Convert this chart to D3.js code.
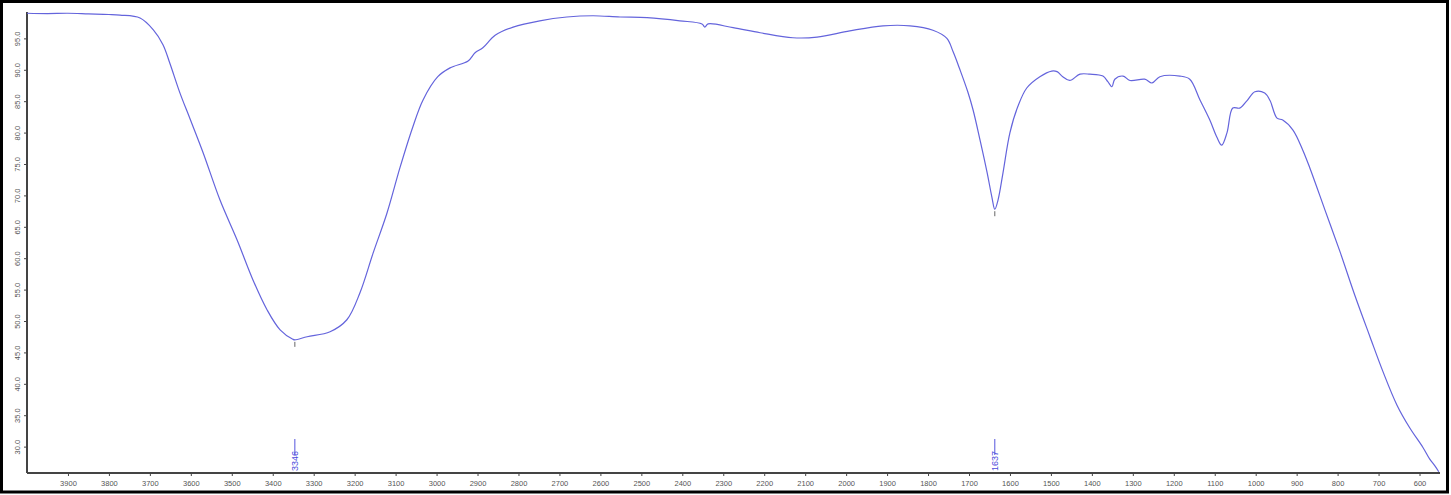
<!DOCTYPE html>
<html>
<head>
<meta charset="utf-8">
<script src="https://cdn.jsdelivr.net/npm/d3@7"></script>
<style>
  body { margin: 0; background: #fff; }
  .axis text { font-family: "Liberation Sans", Arial, sans-serif; font-size: 7.5px; fill: #555; }
  .axis path, .axis line { stroke: #444; }
</style>
</head>
<body>
<div id="chart"></div>
<script>
// wavenumber (cm-1) and % transmittance
const wavenumbers = [4000, 3950, 3900, 3850, 3800, 3773, 3724, 3692, 3668, 3651, 3626, 3602, 3570, 3529, 3487, 3448,
  3414, 3382, 3351, 3346, 3316, 3260, 3219, 3187, 3155, 3121, 3089, 3058, 3033, 2997, 2967, 2923, 2906, 2887,
  2857, 2813, 2748, 2682, 2618, 2552, 2486, 2406, 2352, 2345, 2337, 2276, 2210, 2130, 2071, 1991, 1910, 1844,
  1788, 1754, 1739, 1722, 1703, 1690, 1673, 1656, 1644, 1637, 1629, 1617, 1600, 1581, 1559, 1527, 1498, 1485,
  1471, 1454, 1429, 1405, 1373, 1361, 1351, 1344, 1324, 1307, 1271, 1253, 1234, 1185, 1161, 1136, 1112, 1095,
  1083, 1070, 1056, 1039, 1021, 1002, 978, 965, 948, 934, 909, 885, 868, 831, 794, 758, 721, 689, 655,
  624, 592, 575, 562, 553];
const transmittance = [99.0, 98.95, 99.0, 98.9, 98.8, 98.7, 98.25, 96.4, 94.0, 91.0, 86.2, 82.2, 76.8, 69.3, 62.9, 56.5,
  51.8, 48.6, 47.1, 47.0, 47.5, 48.3, 50.2, 54.5, 60.8, 67.2, 74.5, 80.9, 85.2, 88.9, 90.3, 91.4, 92.7, 93.5,
  95.5, 96.8, 97.8, 98.4, 98.6, 98.4, 98.3, 97.8, 97.3, 96.8, 97.3, 96.7, 95.9, 95.1, 95.2, 96.2, 97.0, 97.0,
  96.3, 95.0, 92.9, 90.0, 86.5, 83.6, 78.8, 73.7, 69.7, 67.8, 69.3, 73.6, 80.0, 84.1, 87.1, 88.9, 89.8, 89.7,
  88.9, 88.3, 89.3, 89.3, 89.0, 88.1, 87.3, 88.5, 89.0, 88.3, 88.5, 87.9, 88.9, 89.0, 88.5, 85.2, 82.0, 79.3,
  78.0, 80.0, 83.9, 83.9, 85.1, 86.5, 86.3, 85.1, 82.3, 82.0, 80.4, 77.2, 74.4, 67.7, 61.0, 54.1, 47.5, 41.9, 36.6,
  33.0, 29.9, 28.0, 26.9, 26.0];
const peakLabels = [3346, 1637];
const peakValues = [47.0, 67.8];
const xTicks = [3900, 3800, 3700, 3600, 3500, 3400, 3300, 3200, 3100, 3000, 2900, 2800, 2700, 2600, 2500, 2400,
  2300, 2200, 2100, 2000, 1900, 1800, 1700, 1600, 1500, 1400, 1300, 1200, 1100, 1000, 900, 800, 700, 600];
const yTicks = [30, 35, 40, 45, 50, 55, 60, 65, 70, 75, 80, 85, 90, 95];

const W = 1451, H = 495;
const svg = d3.select("#chart").append("svg").attr("width", W).attr("height", H);

const x = d3.scaleLinear().domain([4000, 550]).range([27, 1440]);
const y = d3.scaleLinear().domain([25.8, 99.2]).range([473, 12]);

svg.append("rect")
  .attr("x", 1.5).attr("y", 1.5).attr("width", W - 5).attr("height", H - 4.5)
  .attr("fill", "none").attr("stroke", "#000").attr("stroke-width", 3);

const xAxis = svg.append("g").attr("class", "axis")
  .attr("transform", "translate(0,473)")
  .call(d3.axisBottom(x).tickValues(xTicks).tickSize(3).tickPadding(5).tickFormat(d3.format("d")));
xAxis.select(".domain").attr("stroke-width", 2).attr("d", "M27,0H1440");

const yAxis = svg.append("g").attr("class", "axis")
  .attr("transform", "translate(27,0)")
  .call(d3.axisLeft(y).tickValues(yTicks).tickSize(3).tickFormat(d3.format(".1f")));
yAxis.select(".domain").attr("stroke-width", 2).attr("d", "M0,12V473");
yAxis.selectAll(".tick text")
  .attr("x", 0).attr("dy", 0)
  .attr("text-anchor", "middle")
  .attr("transform", "translate(-7,0) rotate(-90)");

const pts = wavenumbers.map((w, i) => [w, transmittance[i]]);
const line = d3.line().x(d => x(d[0])).y(d => y(d[1])).curve(d3.curveCatmullRom.alpha(0.5));

svg.append("path")
  .datum(pts)
  .attr("fill", "none")
  .attr("stroke", "#6464dc")
  .attr("stroke-width", 1.2)
  .attr("d", line);

// peak picks
const peaks = svg.append("g");
peakLabels.forEach((p, i) => {
  peaks.append("line")
    .attr("x1", x(p)).attr("x2", x(p))
    .attr("y1", y(peakValues[i]) + 2).attr("y2", y(peakValues[i]) + 7)
    .attr("stroke", "#666").attr("stroke-width", 1);
  peaks.append("line")
    .attr("x1", x(p)).attr("x2", x(p))
    .attr("y1", 439).attr("y2", 455)
    .attr("stroke", "#5555dd").attr("stroke-width", 1);
  peaks.append("text")
    .attr("transform", `translate(${x(p) + 3},471) rotate(-90)`)
    .attr("font-family", "Liberation Sans, Arial, sans-serif")
    .attr("font-size", "9px")
    .attr("fill", "#4b4bdc")
    .text(p);
});
</script>
</body>
</html>
